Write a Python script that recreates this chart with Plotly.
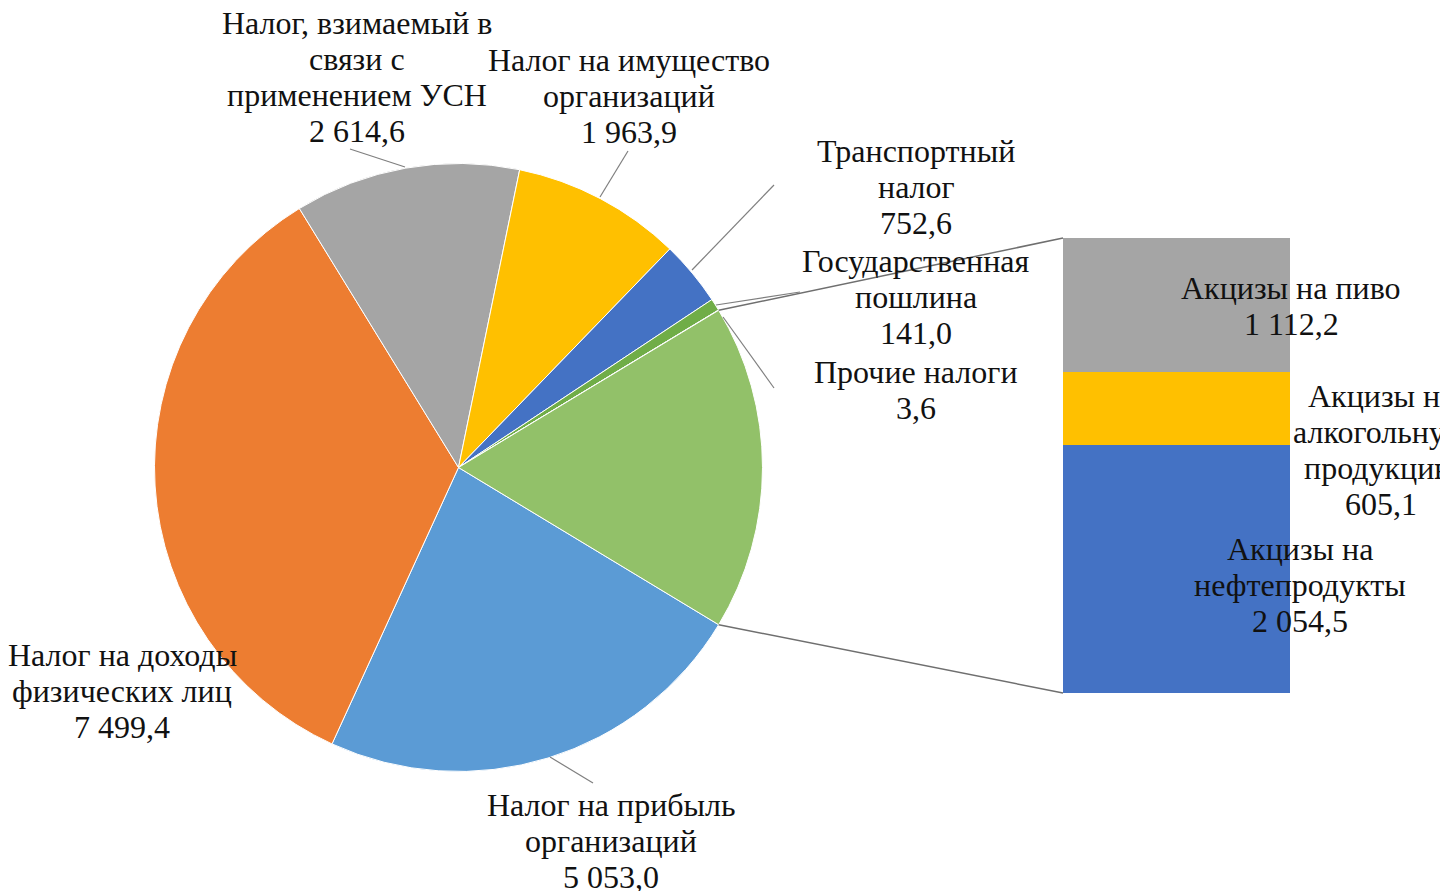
import math
import plotly.graph_objects as go

# ---------------- data ----------------
pie_labels = [
    "Налог на прибыль организаций",
    "Налог на доходы физических лиц",
    "Налог, взимаемый в связи с применением УСН",
    "Налог на имущество организаций",
    "Транспортный налог",
    "Государственная пошлина",
    "Прочие налоги",
]
pie_values = [5053.0, 7499.4, 2614.6, 1963.9, 752.6, 141.0, 3.6]
other_label = "Акцизы"

excise_labels = [
    "Акцизы на пиво",
    "Акцизы на алкогольную продукцию",
    "Акцизы на нефтепродукты",
]
excise_values = [1112.2, 605.1, 2054.5]

# ---------------- styles ----------------
pie_colors = ["#5B9BD5", "#ED7D31", "#A5A5A5", "#FFC000", "#4472C4", "#70AD47", "#264478"]
other_color = "#92C169"
excise_colors = ["#A5A5A5", "#FFC000", "#4472C4"]

W, H = 1440, 891
PIE_CX, PIE_CY, PIE_R = 458.5, 467.5, 304
BAR_X0, BAR_X1, BAR_Y0, BAR_Y1 = 1063, 1290, 238, 693
FONT = "Liberation Serif"
FSIZE = 32
PITCH = 36
TXT = "#111111"
LINE_COL = "#7F7F7F"


def px(x):
    return x / W


def py(y):
    return 1 - y / H


def fmt(v):
    return f"{v:,.1f}".replace(",", " ").replace(".", ",")


other_total = sum(excise_values)
all_values = pie_values + [other_total]
total = sum(all_values)
other_deg = other_total / total * 360
rotation = 90 + other_deg / 2  # other slice centred at 3 o'clock

fig = go.Figure()

fig.add_trace(go.Pie(
    labels=pie_labels + [other_label],
    values=all_values,
    sort=False,
    direction="clockwise",
    rotation=rotation,
    marker=dict(colors=pie_colors + [other_color], line=dict(color="white", width=1)),
    textinfo="none",
    hoverinfo="label+value",
    showlegend=False,
    domain=dict(x=[px(PIE_CX - PIE_R), px(PIE_CX + PIE_R)],
                y=[py(PIE_CY + PIE_R), py(PIE_CY - PIE_R)]),
))

# stacked secondary bar: bottom -> top
for lab, val, col in reversed(list(zip(excise_labels, excise_values, excise_colors))):
    fig.add_trace(go.Bar(
        x=[0], y=[val], name=lab, width=1,
        marker=dict(color=col, line=dict(width=0)),
        hoverinfo="name+y", showlegend=False,
        xaxis="x", yaxis="y",
    ))

# connector lines from the "other" slice edges to the bar corners
a_top = math.radians(rotation - other_deg)
a_bot = math.radians(rotation)
shapes = []
for a, by in ((a_top, BAR_Y0), (a_bot, BAR_Y1)):
    x0 = PIE_CX + PIE_R * math.sin(a)
    y0 = PIE_CY - PIE_R * math.cos(a)
    shapes.append(dict(type="line", xref="paper", yref="paper",
                       x0=px(x0), y0=py(y0), x1=px(BAR_X0), y1=py(by),
                       line=dict(color="#6F6F6F", width=1.5)))

# leader lines of labels
leaders = [
    ((350, 149), (405, 167)),
    ((628, 151), (600, 197)),
    ((774, 185), (692, 270)),
    ((800, 292), (716, 305)),
    ((774, 388), (723, 317)),
    ((593, 783), (550, 757)),
]
for (x0, y0), (x1, y1) in leaders:
    shapes.append(dict(type="line", xref="paper", yref="paper",
                       x0=px(x0), y0=py(y0), x1=px(x1), y1=py(y1),
                       line=dict(color=LINE_COL, width=1.2)))

# label placement: (wrapped name lines, centre x, first line y)
label_layout = {
    "Налог на прибыль организаций": (["Налог на прибыль", "организаций"], 611, 805),
    "Налог на доходы физических лиц": (["Налог на доходы", "физических лиц"], 122, 655),
    "Налог, взимаемый в связи с применением УСН": (["Налог, взимаемый в", "связи с", "применением УСН"], 357, 23),
    "Налог на имущество организаций": (["Налог на имущество", "организаций"], 629, 60),
    "Транспортный налог": (["Транспортный", "налог"], 916, 151),
    "Государственная пошлина": (["Государственная", "пошлина"], 916, 261),
    "Прочие налоги": (["Прочие налоги"], 916, 372),
    "Акцизы на пиво": (["Акцизы на пиво"], 1291, 288),
    "Акцизы на алкогольную продукцию": (["Акцизы на", "алкогольную", "продукцию"], 1381, 396),
    "Акцизы на нефтепродукты": (["Акцизы на", "нефтепродукты"], 1300, 549),
}

annotations = []
for lab, val in list(zip(pie_labels, pie_values)) + list(zip(excise_labels, excise_values)):
    lines, cx, y0 = label_layout[lab]
    for i, t in enumerate(lines + [fmt(val)]):
        annotations.append(dict(
            x=px(cx), y=py(y0 + i * PITCH), xref="paper", yref="paper",
            text=t, showarrow=False, xanchor="center", yanchor="middle",
            font=dict(family=FONT, size=FSIZE, color=TXT),
        ))

fig.update_layout(
    width=W, height=H,
    margin=dict(l=0, r=0, t=0, b=0),
    paper_bgcolor="white", plot_bgcolor="rgba(0,0,0,0)",
    barmode="stack", bargap=0,
    xaxis=dict(domain=[px(BAR_X0), px(BAR_X1)], range=[-0.5, 0.5],
               visible=False, fixedrange=True),
    yaxis=dict(domain=[py(BAR_Y1), py(BAR_Y0)], range=[0, other_total],
               visible=False, fixedrange=True),
    shapes=shapes,
    annotations=annotations,
    showlegend=False,
)

fig.write_html("out.html",
               config={"displayModeBar": False},
               post_script="document.body.style.margin='0';document.body.style.overflow='hidden';")
